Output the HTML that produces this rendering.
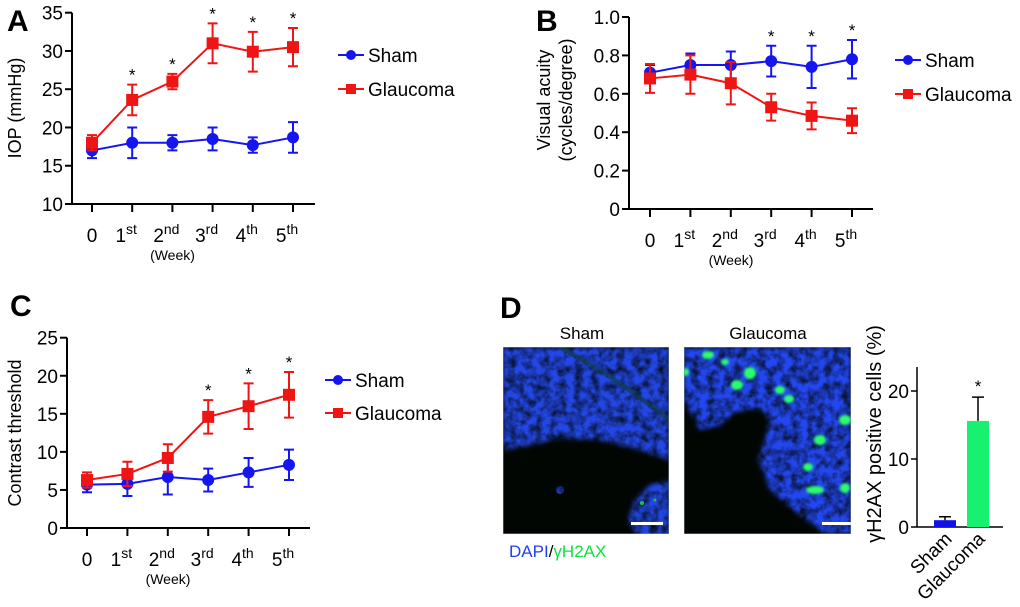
<!DOCTYPE html>
<html><head><meta charset="utf-8">
<style>
html,body{margin:0;padding:0;background:#fff;}
svg{display:block;font-family:"Liberation Sans",Arial,sans-serif;}
</style></head>
<body>
<svg id="fig" width="1020" height="607" viewBox="0 0 1020 607" xmlns="http://www.w3.org/2000/svg">
<defs>
  <filter id="blur2" x="-10%" y="-10%" width="120%" height="120%"><feGaussianBlur stdDeviation="2.5"/></filter>
  <filter id="blur1"><feGaussianBlur stdDeviation="1.2"/></filter>
  <filter id="speck" x="0" y="0" width="100%" height="100%">
    <feTurbulence type="fractalNoise" baseFrequency="0.12" numOctaves="3" seed="4" result="n"/>
    <feColorMatrix in="n" type="matrix" values="0 0 0 0 0  0 0 0 0 0  0 0 0 0 0  0 0 0 -1.6 1.55" result="a"/>
    <feComposite in="SourceGraphic" in2="a" operator="in"/>
  </filter>
  <clipPath id="clip1"><rect x="503" y="347" width="166" height="187"/></clipPath>
  <clipPath id="clip2"><rect x="684" y="347" width="167" height="187"/></clipPath>
</defs>
<g id="root"></g>

<g clip-path="url(#clip1)">
  <rect x="503" y="347" width="166" height="187" fill="#020602"/>
  <g filter="url(#speck)">
    <path d="M503,347 L669,347 L669,460 L640,450 L600,440 L560,438 L530,445 L503,450 Z" fill="#2046e6" filter="url(#blur2)"/>
    <path d="M640,540 L669,540 L669,480 L650,485 L635,500 L628,520 Z" fill="#2046e6" filter="url(#blur2)"/>
    <circle cx="560" cy="490" r="4" fill="#2046e6"/>
  </g>
  <path d="M560,347 Q620,380 669,420" stroke="#0b3a20" stroke-width="5" fill="none" opacity="0.5"/>
  <circle cx="642" cy="503" r="2" fill="#20c040"/><circle cx="655" cy="500" r="1.5" fill="#20c040"/>
  <rect x="631" y="522" width="32" height="3" fill="#fff"/>
  <rect x="503" y="347" width="166" height="187" fill="none" stroke="#9ab" stroke-width="0.8"/>
</g>
<g clip-path="url(#clip2)">
  <rect x="684" y="347" width="167" height="187" fill="#020602"/>
  <g filter="url(#speck)">
    <path d="M684,347 L851,347 L851,534 L825,534 L800,515 L770,490 L758,460 L765,440 L770,420 L760,408 L735,412 L720,425 L700,430 L684,400 Z" fill="#2046f0" filter="url(#blur2)"/>
  </g>
  <g fill="#2cff6a" filter="url(#blur1)">
    <ellipse cx="708" cy="355" rx="6" ry="4"/><ellipse cx="737" cy="385" rx="6" ry="5"/><ellipse cx="750" cy="373" rx="6" ry="6"/>
    <ellipse cx="780" cy="390" rx="5" ry="4"/><ellipse cx="789" cy="399" rx="5" ry="4"/><ellipse cx="845" cy="420" rx="6" ry="5"/>
    <ellipse cx="820" cy="440" rx="6" ry="5"/><ellipse cx="808" cy="467" rx="5" ry="4"/><ellipse cx="815" cy="490" rx="9" ry="4"/>
    <ellipse cx="845" cy="488" rx="5" ry="5"/><ellipse cx="725" cy="362" rx="4" ry="3"/><ellipse cx="686" cy="372" rx="3" ry="4"/>
  </g>
  <rect x="822" y="522" width="31" height="3" fill="#fff"/>
  <rect x="684" y="347" width="167" height="187" fill="none" stroke="#9ab" stroke-width="0.8"/>
</g>
<text x="582" y="339" font-size="17" text-anchor="middle">Sham</text>
<text x="768" y="339" font-size="17" text-anchor="middle">Glaucoma</text>
<text x="509" y="557" font-size="17"><tspan fill="#2040f0">DAPI</tspan><tspan fill="#000">/</tspan><tspan fill="#10e040">γH2AX</tspan></text>

<script>
const weeks = ["0","1","2","3","4","5"];
const weekSup = ["","st","nd","rd","th","th"];
const aSham = [17, 18, 18, 18.5, 17.7, 18.7];
const aShamErr = [1, 2, 1, 1.5, 1, 2];
const aGlau = [18, 23.6, 26, 31, 29.9, 30.5];
const aGlauErr = [1, 2, 1, 2.6, 2.6, 2.5];
const aTicks = [10, 15, 20, 25, 30, 35];
const aStars = [false, true, true, true, true, true];
const bSham = [0.71, 0.75, 0.75, 0.77, 0.74, 0.78];
const bShamErr = [0.04, 0.06, 0.07, 0.08, 0.11, 0.1];
const bGlau = [0.68, 0.70, 0.655, 0.53, 0.485, 0.46];
const bGlauErr = [0.075, 0.1, 0.11, 0.07, 0.07, 0.065];
const bTicks = [0, 0.2, 0.4, 0.6, 0.8, 1.0];
const bTickLabels = ["0", "0.2", "0.4", "0.6", "0.8", "1.0"];
const bStars = [false, false, false, true, true, true];
const cSham = [5.7, 5.8, 6.7, 6.3, 7.3, 8.3];
const cShamErr = [1, 1.6, 2.3, 1.5, 1.9, 2];
const cGlau = [6.3, 7.1, 9.2, 14.6, 16, 17.5];
const cGlauErr = [1, 1.6, 1.8, 2.2, 3, 3];
const cTicks = [0, 5, 10, 15, 20, 25];
const cStars = [false, false, false, true, true, true];
const dCats = ["Sham", "Glaucoma"];
const dVals = [1.0, 15.6];
const dErr = [0.5, 3.5];
const dTicks = [0, 10, 20];
const dStars = [false, true];

const NS = "http://www.w3.org/2000/svg";
const root = document.getElementById("root");
function mk(tag, attrs, parent, text) {
  const e = document.createElementNS(NS, tag);
  for (const k in attrs) e.setAttribute(k, attrs[k]);
  if (text !== undefined) e.textContent = text;
  (parent || root).appendChild(e);
  return e;
}

function lineChart(o) {
  const g = mk("g", {});
  
  
  const y = v => o.y0 + (v - o.vmin) / (o.vmax - o.vmin) * (o.y1 - o.y0);
  const x = i => o.x0 + i * (o.x5 - o.x0) / 5;
  const ya = mk("line", {x1: o.ax, y1: y(o.vmax), x2: o.ax, y2: o.y0, stroke: "#000", "stroke-width": 2}, g);
  
  
  const xa = mk("line", {x1: o.ax, y1: o.y0, x2: o.axEnd, y2: o.y0, stroke: "#000", "stroke-width": 2}, g);
  
  
  o.ticks.forEach((t, i) => {
    mk("line", {x1: o.ax - 7, y1: y(t), x2: o.ax, y2: y(t), stroke: "#000", "stroke-width": 2}, g);
    const tl = mk("text", {x: o.ax - 9, y: y(t) + 7, "font-size": 19, "text-anchor": "end"}, g, o.tickLabels ? o.tickLabels[i] : String(t));
    
    
  });
  weeks.forEach((w, i) => {
    mk("line", {x1: x(i), y1: o.y0, x2: x(i), y2: o.y0 + 8, stroke: "#000", "stroke-width": 2}, g);
    const t = mk("text", {x: x(i) - 6, y: o.y0 + 38, "font-size": 19, "text-anchor": "middle"}, g);
    
    
    mk("tspan", {}, t, w);
    if (weekSup[i]) mk("tspan", {dy: -8, "font-size": 14}, t, weekSup[i]);
    if (!weekSup[i]) t.setAttribute("x", x(i));
  });
  const wk = mk("text", {x: (x(2) + x(3)) / 2 - 20, y: o.y0 + 56, "font-size": 14, "text-anchor": "middle"}, g, "(Week)");
  
  
  const series = [
    {v: o.sham, e: o.shamErr, c: "#1515f0", sq: false, nm: "sham"},
    {v: o.glau, e: o.glauErr, c: "#f01515", sq: true, nm: "glaucoma"}];
  series.forEach(s => {
    const sg = mk("g", {}, g);
    
    
    mk("polyline", {points: s.v.map((v, i) => x(i) + "," + y(v)).join(" "), fill: "none", stroke: s.c, "stroke-width": 2}, sg);
    s.v.forEach((v, i) => {
      const hi = y(v + s.e[i]), lo = y(v - s.e[i]);
      mk("path", {d: `M${x(i)},${hi}V${lo}M${x(i)-5},${hi}h10M${x(i)-5},${lo}h10`, stroke: s.c, "stroke-width": 2, fill: "none"}, sg);
      let m;
      if (s.sq) m = mk("rect", {x: x(i) - 6, y: y(v) - 6, width: 12, height: 12, fill: s.c}, sg);
      else m = mk("circle", {cx: x(i), cy: y(v), r: 6, fill: s.c}, sg);
      
      
    });
  });
  o.stars.forEach((st, i) => {
    if (!st) return;
    const top = Math.min(y(o.sham[i] + o.shamErr[i]), y(o.glau[i] + o.glauErr[i]));
    const s = mk("text", {x: x(i), y: top - 4, "font-size": 17, "text-anchor": "middle"}, g, "*");
    
    
  });
  [["Sham", "#1515f0", false, o.ly1], ["Glaucoma", "#f01515", true, o.ly2]].forEach(L => {
    const lg = mk("g", {}, g);
    
    
    mk("line", {x1: o.lx, y1: L[3], x2: o.lx + 26, y2: L[3], stroke: L[1], "stroke-width": 2}, lg);
    if (L[2]) mk("rect", {x: o.lx + 8, y: L[3] - 5, width: 10, height: 10, fill: L[1]}, lg);
    else mk("circle", {cx: o.lx + 13, cy: L[3], r: 5, fill: L[1]}, lg);
    mk("text", {x: o.lx + 30, y: L[3] + 7, "font-size": 19}, lg, L[0]);
  });
  const pl = mk("text", {x: o.px, y: o.py, "font-size": 30, "font-weight": "bold"}, g, o.letter);
  
  
  o.ytitle.forEach((t, k) => {
    const yt = mk("text", {x: 0, y: 0, "font-size": 18, "text-anchor": "middle", transform: `translate(${o.ytx + k * 22},${o.yty}) rotate(-90)`}, g, t);
    
    
  });
}

lineChart({name: "panel-a-iop-chart", letter: "A", px: 7, py: 31, ax: 72, axEnd: 315, y0: 204, y1: 12.7, vmin: 10, vmax: 35,
  x0: 92, x5: 293, ticks: aTicks, sham: aSham, shamErr: aShamErr, glau: aGlau, glauErr: aGlauErr, stars: aStars,
  lx: 338, ly1: 55, ly2: 89, ytitle: ["IOP (mmHg)"], ytx: 21, yty: 108});
lineChart({name: "panel-b-visual-acuity-chart", letter: "B", px: 536, py: 31, ax: 629, axEnd: 873, y0: 209, y1: 17, vmin: 0, vmax: 1,
  x0: 650, x5: 852, ticks: bTicks, tickLabels: bTickLabels, sham: bSham, shamErr: bShamErr, glau: bGlau, glauErr: bGlauErr, stars: bStars,
  lx: 895, ly1: 60, ly2: 94, ytitle: ["Visual acuity", "(cycles/degree)"], ytx: 550, yty: 100});
lineChart({name: "panel-c-contrast-chart", letter: "C", px: 10, py: 316, ax: 67, axEnd: 310, y0: 528, y1: 337.7, vmin: 0, vmax: 25,
  x0: 87, x5: 289, ticks: cTicks, sham: cSham, shamErr: cShamErr, glau: cGlau, glauErr: cGlauErr, stars: cStars,
  lx: 325, ly1: 380, ly2: 413, ytitle: ["Contrast threshold"], ytx: 21, yty: 433});

(function () {
  const g = mk("g", {});
  
  
  const pl = mk("text", {x: 500, y: 318, "font-size": 30, "font-weight": "bold"}, g, "D");
  
  
  const y = v => 527 + v * (391 - 527) / 20;
  const ax = 917;
  mk("line", {x1: ax, y1: 367, x2: ax, y2: 527, stroke: "#000", "stroke-width": 1.5}, g);
  mk("line", {x1: ax, y1: 527, x2: 1003, y2: 527, stroke: "#000", "stroke-width": 1.5}, g);
  dTicks.forEach(t => {
    mk("line", {x1: ax - 6, y1: y(t), x2: ax, y2: y(t), stroke: "#000", "stroke-width": 1.5}, g);
    const tl = mk("text", {x: ax - 8, y: y(t) + 7, "font-size": 19, "text-anchor": "end"}, g, String(t));
    
    
  });
  const colors = ["#1010e8", "#18f070"];
  const cx = [945, 978];
  dCats.forEach((c, i) => {
    const b = mk("rect", {x: cx[i] - 11, y: y(dVals[i]), width: 22, height: 527 - y(dVals[i]), fill: colors[i]}, g);
    
    
    const top = y(dVals[i] + dErr[i]);
    mk("path", {d: `M${cx[i]},${y(dVals[i])}V${top}M${cx[i]-6},${top}h12`, stroke: "#000", "stroke-width": 1.5, fill: "none"}, g);
    const lab = mk("text", {x: 0, y: 0, "font-size": 19, "text-anchor": "end", transform: `translate(${cx[i] + 8},${540}) rotate(-45)`}, g, c);
    
    
    if (dStars[i]) {
      const s = mk("text", {x: cx[i], y: top - 5, "font-size": 17, "text-anchor": "middle"}, g, "*");
      
      
    }
  });
  const yt = mk("text", {x: 0, y: 0, "font-size": 20, "text-anchor": "middle", transform: `translate(881,434) rotate(-90)`}, g, "γH2AX positive cells (%)");
  
  
})();
</script>
</svg>
</body></html>
